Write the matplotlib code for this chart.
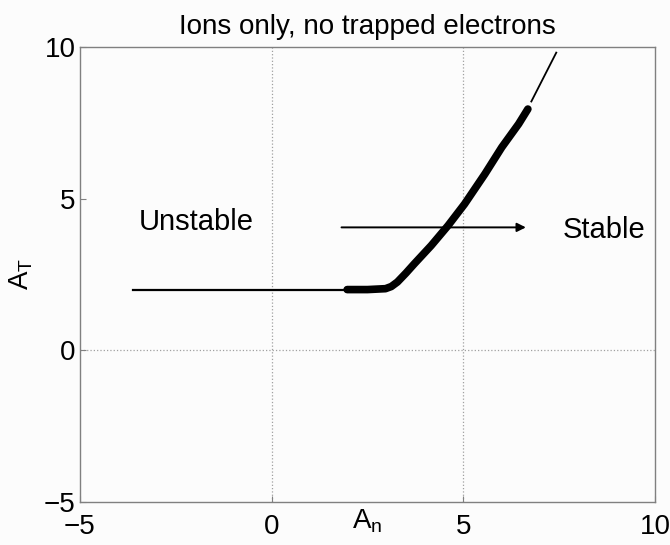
import matplotlib

matplotlib.use("Agg")
import matplotlib.pyplot as plt

# thin lower branch (A_T = 2)
low_x = [-3.6, 2.0]
low_y = [2.0, 2.0]

# thick stability boundary
thick_x = [1.97, 2.5, 2.97, 3.12, 3.28, 3.5, 3.72, 4.16, 4.6, 5.03, 5.56, 6.0, 6.44, 6.68]
thick_y = [2.0, 2.0, 2.03, 2.1, 2.25, 2.54, 2.85, 3.45, 4.11, 4.82, 5.81, 6.69, 7.46, 7.95]

# thin upper continuation
up_x = [6.77, 7.42]
up_y = [8.2, 9.81]

arrow_x = [1.75, 6.7]
arrow_y = 4.05

plt.rcParams["font.family"] = ["Liberation Sans", "DejaVu Sans"]
plt.rcParams["mathtext.fontset"] = "custom"
plt.rcParams["mathtext.rm"] = "Liberation Sans"

fig = plt.figure(figsize=(6.7, 5.45), dpi=100, facecolor="#fcfcfc")
ax = fig.add_axes([0.119, 0.079, 0.859, 0.835], facecolor="#fcfcfc")

# grid lines that show inside the box
for gx in (0, 5):
    ax.axvline(gx, color="#a0a0a0", linestyle=":", linewidth=0.9, zorder=1)
ax.axhline(0, color="#a0a0a0", linestyle=":", linewidth=0.9, zorder=1)

ax.plot(low_x, low_y, color="black", linewidth=1.6, zorder=3)
ax.plot(thick_x, thick_y, color="black", linewidth=5.5,
        solid_capstyle="round", solid_joinstyle="round", zorder=3)
ax.plot(up_x, up_y, color="black", linewidth=1.3, zorder=3)

ax.annotate(
    "",
    xy=(arrow_x[1], arrow_y),
    xytext=(arrow_x[0], arrow_y),
    arrowprops=dict(arrowstyle="-|>", color="black", linewidth=1.4, mutation_scale=13),
    zorder=4,
)
ax.text(-3.47, 4.24, "Unstable", fontsize=21, va="center", ha="left")
ax.text(7.6, 3.98, "Stable", fontsize=21, va="center", ha="left")

ax.set_xlim(-5, 10)
ax.set_ylim(-5, 10)
ax.set_xticks([-5, 0, 5, 10])
ax.set_yticks([-5, 0, 5, 10])
ax.tick_params(direction="in", length=4, labelsize=20, color="#808080")
ax.tick_params(axis="x", pad=9)
ax.tick_params(axis="y", pad=3)
for sp in ax.spines.values():
    sp.set_color("#808080")
    sp.set_linewidth(1.0)

ax.set_title("Ions only, no trapped electrons", fontsize=20, pad=9)
ax.set_xlabel(r"A$_{\mathregular{n}}$", fontsize=20, labelpad=-24)
ax.set_ylabel(r"A$_{\mathregular{T}}$", fontsize=20, labelpad=6)

fig.savefig("out.png", dpi=100, facecolor=fig.get_facecolor())
